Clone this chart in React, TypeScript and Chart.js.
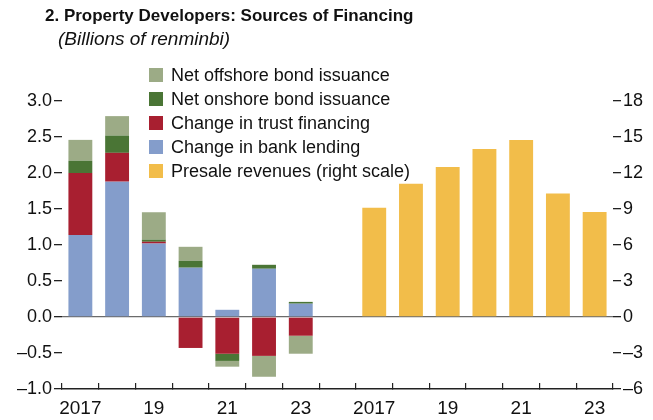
import React, { useEffect, useRef } from 'react';
import { Chart, registerables } from 'chart.js';

Chart.register(...registerables);

const FONT = "'Liberation Sans Narrow', 'Arial Narrow', 'Liberation Sans', sans-serif";

const titleText = '2. Property Developers: Sources of Financing';
const subtitleText = '(Billions of renminbi)';

const categories = ['2017', '', '19', '', '21', '', '23', '', '2017', '', '19', '', '21', '', '23'];

const bankLending = [1.14, 1.88, 1.02, 0.685, 0.1, 0.67, 0.185, null, null, null, null, null, null, null, null];
const trustFinancing = [0.86, 0.4, 0.025, -0.43, -0.51, -0.54, -0.26, null, null, null, null, null, null, null, null];
const onshoreBonds = [0.17, 0.24, 0.03, 0.095, -0.1, 0.055, 0.025, null, null, null, null, null, null, null, null];
const offshoreBonds = [0.29, 0.27, 0.38, 0.195, -0.08, -0.29, -0.25, null, null, null, null, null, null, null, null];
const presaleRevenues = [null, null, null, null, null, null, null, null, 9.1, 11.1, 12.5, 14.0, 14.75, 10.3, 8.75];

const leftTicks = { min: -1, max: 3, step: 0.5 };
const rightTicks = { min: -6, max: 18, step: 3 };

const COLORS = {
  bank: '#849dcb',
  trust: '#a81f30',
  onshore: '#4a7535',
  offshore: '#9cab86',
  presale: '#f2bd4a',
};

const dash = (s: string) => s.replace('-', '\u2013');

const overlayPlugin = {
  id: 'overlay',
  afterDraw(chart: any) {
    const ctx = chart.ctx;
    ctx.save();
    ctx.fillStyle = '#111';
    ctx.textAlign = 'left';
    ctx.textBaseline = 'alphabetic';
    ctx.font = `bold 17px ${FONT}`;
    ctx.fillText(titleText, 45, 21);
    ctx.font = `italic 19px ${FONT}`;
    ctx.fillText(subtitleText, 58, 44.5);

    const order = [3, 2, 1, 0, 4];
    ctx.font = `18px ${FONT}`;
    ctx.textBaseline = 'middle';
    order.forEach((di, i) => {
      const ds = chart.data.datasets[di];
      const cy = 75 + 24 * i;
      ctx.fillStyle = ds.backgroundColor;
      ctx.fillRect(149, cy - 7, 14, 14);
      ctx.fillStyle = '#111';
      ctx.fillText(ds.label, 171, cy + 1);
    });
    ctx.restore();
  },
};

export default function App() {
  const ref = useRef<HTMLCanvasElement | null>(null);

  useEffect(() => {
    if (!ref.current) return;
    const chart = new Chart(ref.current, {
      type: 'bar',
      data: {
        labels: categories,
        datasets: [
          { label: 'Change in bank lending', data: bankLending, backgroundColor: COLORS.bank, yAxisID: 'y' },
          { label: 'Change in trust financing', data: trustFinancing, backgroundColor: COLORS.trust, yAxisID: 'y' },
          { label: 'Net onshore bond issuance', data: onshoreBonds, backgroundColor: COLORS.onshore, yAxisID: 'y' },
          { label: 'Net offshore bond issuance', data: offshoreBonds, backgroundColor: COLORS.offshore, yAxisID: 'y' },
          { label: 'Presale revenues (right scale)', data: presaleRevenues, backgroundColor: COLORS.presale, yAxisID: 'y2' },
        ] as any,
      },
      options: {
        animation: false,
        responsive: true,
        maintainAspectRatio: false,
        layout: { padding: { top: 101, bottom: 0, left: 0, right: 0 } },
        datasets: { bar: { barPercentage: 0.65, categoryPercentage: 1, borderWidth: 0 } },
        plugins: {
          legend: { display: false },
          title: { display: false },
          tooltip: { enabled: false },
        },
        scales: {
          x: {
            stacked: true,
            offset: true,
            grid: { offset: true, drawOnChartArea: false, tickLength: -6, color: '#222', lineWidth: 1.2 },
            border: { display: true, color: '#222', width: 1.5 },
            ticks: {
              autoSkip: false,
              maxRotation: 0,
              minRotation: 0,
              padding: 14,
              color: '#111',
              font: { family: FONT, size: 19 },
            },
            afterFit: (s: any) => { s.height = 31; },
          },
          y: {
            position: 'left',
            stacked: true,
            min: leftTicks.min,
            max: leftTicks.max,
            ticks: {
              stepSize: leftTicks.step,
              padding: 2,
              color: '#111',
              font: { family: FONT, size: 18 },
              callback: (v: any) => dash(Number(v).toFixed(1)),
            },
            grid: {
              drawOnChartArea: true,
              color: (c: any) => (c.tick && c.tick.value === 0 ? '#6b6b6b' : 'rgba(0,0,0,0)'),
              tickColor: '#222',
              tickLength: 8,
              lineWidth: 1.3,
            },
            border: { display: false },
            afterFit: (s: any) => { s.width = 62; },
          },
          y2: {
            position: 'right',
            stacked: true,
            min: rightTicks.min,
            max: rightTicks.max,
            ticks: {
              stepSize: rightTicks.step,
              padding: 2,
              color: '#111',
              font: { family: FONT, size: 18 },
              callback: (v: any) => dash(String(v)),
            },
            grid: { drawOnChartArea: false, color: '#222', tickLength: 8, lineWidth: 1.3 },
            border: { display: false },
            afterFit: (s: any) => { s.width = 40; },
          },
        },
      } as any,
      plugins: [overlayPlugin],
    });
    return () => chart.destroy();
  }, []);

  return (
    <div style={{ position: 'fixed', left: 0, top: 0, width: 653, height: 420, background: '#fff' }}>
      <canvas ref={ref} />
    </div>
  );
}
